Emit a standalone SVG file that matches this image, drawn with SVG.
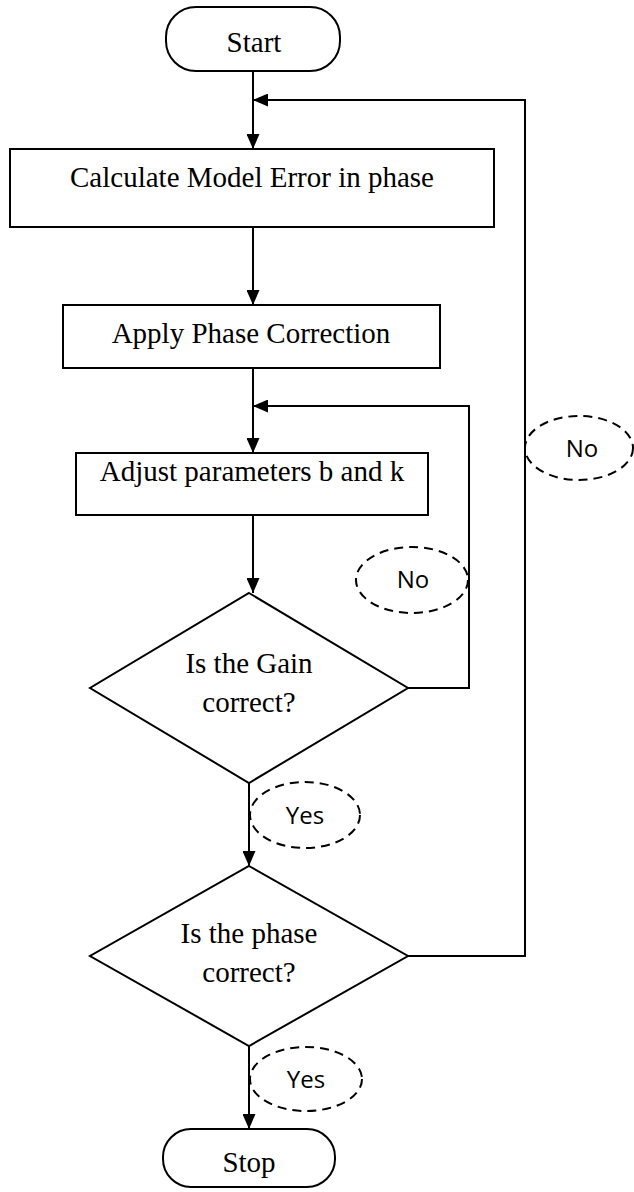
<svg xmlns="http://www.w3.org/2000/svg" width="634" height="1192" viewBox="0 0 634 1192">
<defs>
<marker id="ah" viewBox="0 0 15 13" refX="15" refY="6.5" markerWidth="15" markerHeight="13" markerUnits="userSpaceOnUse" orient="auto">
<path d="M0,0 L15,6.5 L0,13 z" fill="#000"/>
</marker>
<style>
.s{fill:#fff;stroke:#000;stroke-width:2}
.t{font-family:"Liberation Serif",serif;font-size:29px;fill:#000;text-anchor:middle}
.l{font-family:"Open Sans","Liberation Sans",sans-serif;font-size:24px;fill:#000;text-anchor:middle}
.d{fill:none;stroke:#000;stroke-width:2;stroke-dasharray:9,6}
.c{fill:none;stroke:#000;stroke-width:2}
</style>
</defs>
<rect width="634" height="1192" fill="#fff"/>
<g id="connectors">
<path class="c" d="M253,71 V149" marker-end="url(#ah)"/>
<path class="c" d="M253,227 V305" marker-end="url(#ah)"/>
<path class="c" d="M253,368 V453" marker-end="url(#ah)"/>
<path class="c" d="M253,515 V593" marker-end="url(#ah)"/>
<path class="c" d="M408,688 H469 V406 H253" marker-end="url(#ah)"/>
<path class="c" d="M249,783 V866" marker-end="url(#ah)"/>
<path class="c" d="M408,956 H525 V100 H253" marker-end="url(#ah)"/>
<path class="c" d="M249,1046 V1129" marker-end="url(#ah)"/>
</g>
<g id="start"><rect class="s" x="166" y="7" width="174" height="64" rx="30" ry="30"/><text class="t" x="254" y="52">Start</text></g>
<g id="calc"><rect class="s" x="10" y="149" width="484" height="78"/><text class="t" x="252" y="187">Calculate Model Error in phase</text></g>
<g id="apply"><rect class="s" x="63" y="305" width="377" height="63"/><text class="t" x="251" y="343">Apply Phase Correction</text></g>
<g id="adjust"><rect class="s" x="76" y="453" width="352" height="62"/><text class="t" x="252" y="481">Adjust parameters b and k</text></g>
<g id="gain"><path class="s" d="M249,593 L408,688 L249,783 L90,688 Z"/><text class="t" x="249" y="673">Is the Gain</text><text class="t" x="249" y="712">correct?</text></g>
<g id="phase"><path class="s" d="M249,866 L408,956 L249,1046 L90,956 Z"/><text class="t" x="249" y="943">Is the phase</text><text class="t" x="249" y="982">correct?</text></g>
<g id="stop"><rect class="s" x="163" y="1129" width="172" height="58" rx="28" ry="28"/><text class="t" x="249" y="1172">Stop</text></g>
<g id="no1"><ellipse class="d" cx="412" cy="580" rx="56" ry="33"/><text class="l" x="413" y="588">No</text></g>
<g id="no2"><ellipse class="d" cx="579" cy="448" rx="54" ry="32"/><text class="l" x="582" y="457">No</text></g>
<g id="yes1"><ellipse class="d" cx="305" cy="815" rx="55" ry="33"/><text class="l" x="305" y="824">Yes</text></g>
<g id="yes2"><ellipse class="d" cx="306" cy="1079" rx="56" ry="32"/><text class="l" x="306" y="1088">Yes</text></g>
</svg>
